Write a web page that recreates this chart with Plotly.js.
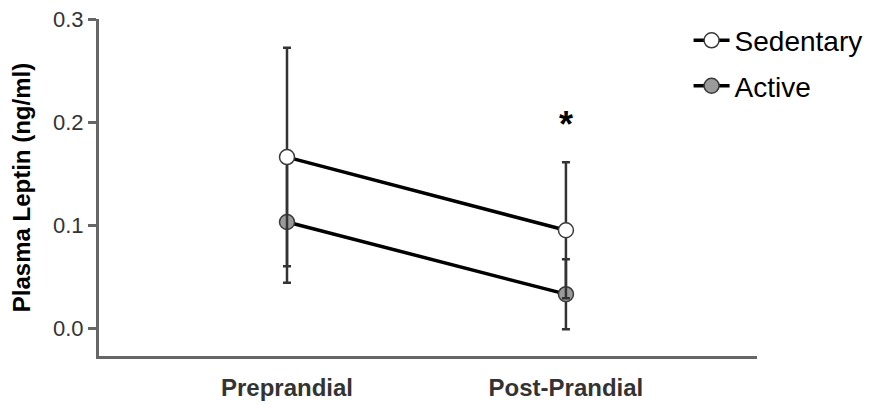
<!DOCTYPE html>
<html>
<head>
<meta charset="utf-8">
<script src="https://cdn.plot.ly/plotly-3.0.1.min.js"></script>
<style>html,body{margin:0;padding:0;background:#fff;}#chart{width:882px;height:404px;}</style>
</head>
<body>
<div id="chart"></div>
<script>
const categories = ["Preprandial", "Post-Prandial"];
const categoryPos = [0, 1];
const sedentaryMean = [0.166, 0.095];
const sedentaryErr = [0.106, 0.066];
const activeMean = [0.103, 0.033];
const activeErr = [0.059, 0.034];
const yTicks = [0.0, 0.1, 0.2, 0.3];
const yTickText = ["0.0", "0.1", "0.2", "0.3"];

const active = {
  x: categoryPos, y: activeMean, name: "Active", type: "scatter", mode: "lines+markers",
  legendgroup: "b", legendrank: 2,
  line: {color: "#000", width: 3.5},
  marker: {size: 15, color: "#9a9a9a", line: {color: "#3a3a3a", width: 1.5}},
  error_y: {type: "data", array: activeErr, visible: true, color: "#333", thickness: 2.5, width: 4}
};
const sedentary = {
  x: categoryPos, y: sedentaryMean, name: "Sedentary", type: "scatter", mode: "lines+markers",
  legendgroup: "a", legendrank: 1,
  line: {color: "#000", width: 3.5},
  marker: {size: 15, color: "#fff", line: {color: "#3a3a3a", width: 1.5}},
  error_y: {type: "data", array: sedentaryErr, visible: true, color: "#333", thickness: 2.5, width: 4}
};

const layout = {
  width: 882, height: 404,
  margin: {l: 99, r: 125, t: 19, b: 48},
  paper_bgcolor: "#fff", plot_bgcolor: "#fff",
  font: {family: "Arial, Liberation Sans, sans-serif", color: "#333"},
  showlegend: true,
  legend: {x: 0.896, y: 1.01, xanchor: "left", yanchor: "top", traceorder: "grouped", tracegroupgap: 6,
    itemwidth: 36,
    font: {size: 28, color: "#000"}, bgcolor: "rgba(0,0,0,0)"},
  xaxis: {
    range: [-0.674, 1.685], tickvals: categoryPos, ticktext: categories,
    showgrid: false, zeroline: false, showline: true, linecolor: "#666", linewidth: 3,
    ticks: "", ticklabelstandoff: 8,
    tickfont: {size: 24, color: "#333", weight: "bold"}
  },
  yaxis: {
    range: [-0.027, 0.3], tickvals: yTicks, ticktext: yTickText,
    showgrid: false, zeroline: false, showline: true, linecolor: "#666", linewidth: 3,
    ticks: "outside", ticklen: 8, tickwidth: 3, tickcolor: "#666",
    tickfont: {size: 22, color: "#333"},
    title: {text: "Plasma Leptin (ng/ml)", font: {size: 24, color: "#000", weight: "bold"}, standoff: 16}
  },
  annotations: [{
    x: 1, y: 0.198, xref: "x", yref: "y", text: "*", showarrow: false,
    font: {size: 36, color: "#000", weight: "bold"}, yanchor: "middle"
  }]
};

Plotly.newPlot("chart", [active, sedentary], layout, {displayModeBar: false, staticPlot: true});
</script>
</body>
</html>
